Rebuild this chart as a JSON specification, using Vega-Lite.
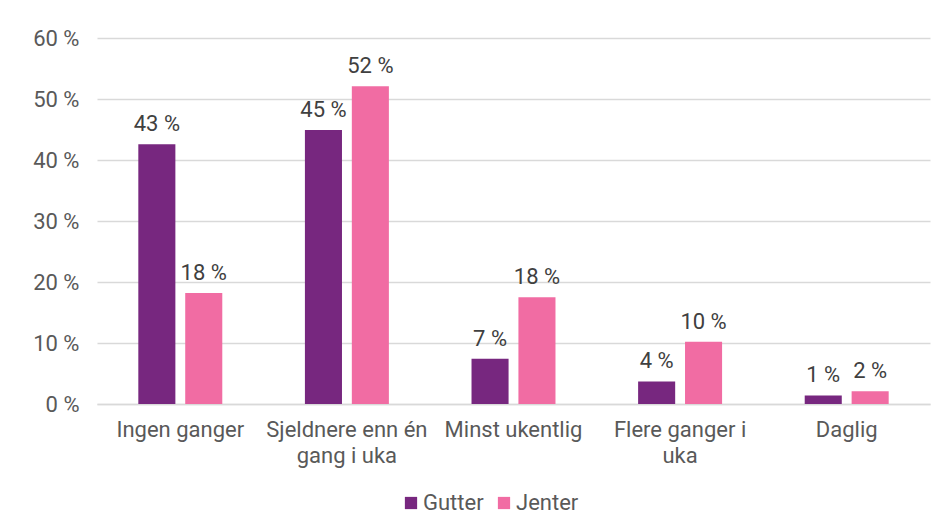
{
  "$schema": "https://vega.github.io/schema/vega-lite/v6.json",
  "width": 833,
  "height": 366,
  "autosize": {"type": "none"},
  "padding": {"left": 97, "top": 38, "right": 4, "bottom": 127},
  "background": "white",
  "config": {
    "locale": {"number": {"decimal": ",", "thousands": " ", "grouping": [3], "currency": ["", " kr"], "percent": " %"}},
    "font": "Roboto",
    "view": {"stroke": null},
    "axis": {"labelFont": "Roboto", "labelFontSize": 22, "labelColor": "#595959", "titleFont": "Roboto"},
    "legend": {"labelFont": "Roboto", "labelFontSize": 22, "labelColor": "#595959"}
  },
  "data": {
    "values": [
      {"kategori": "Ingen ganger", "kjonn": "Gutter", "andel": 0.426},
      {"kategori": "Ingen ganger", "kjonn": "Jenter", "andel": 0.182},
      {"kategori": "Sjeldnere enn én gang i uka", "kjonn": "Gutter", "andel": 0.449},
      {"kategori": "Sjeldnere enn én gang i uka", "kjonn": "Jenter", "andel": 0.521},
      {"kategori": "Minst ukentlig", "kjonn": "Gutter", "andel": 0.074},
      {"kategori": "Minst ukentlig", "kjonn": "Jenter", "andel": 0.175},
      {"kategori": "Flere ganger i uka", "kjonn": "Gutter", "andel": 0.037},
      {"kategori": "Flere ganger i uka", "kjonn": "Jenter", "andel": 0.102},
      {"kategori": "Daglig", "kjonn": "Gutter", "andel": 0.014},
      {"kategori": "Daglig", "kjonn": "Jenter", "andel": 0.021}
    ]
  },
  "encoding": {
    "x": {
      "field": "kategori",
      "type": "nominal",
      "sort": null,
      "scale": {"paddingInner": 0.496, "paddingOuter": 0.248},
      "axis": {
        "title": null,
        "labelAngle": 0,
        "ticks": false,
        "domain": true,
        "domainColor": "#D9D9D9",
        "domainWidth": 1.5,
        "labelPadding": 15,
        "labelLineHeight": 26,
        "labelLimit": 220,
        "labelBaseline": "top",
        "labelExpr": "datum.value == 'Sjeldnere enn én gang i uka' ? ['Sjeldnere enn én', 'gang i uka'] : datum.value == 'Flere ganger i uka' ? ['Flere ganger i', 'uka'] : datum.value"
      }
    },
    "xOffset": {
      "field": "kjonn",
      "type": "nominal",
      "scale": {"paddingInner": 0.21, "paddingOuter": 0}
    },
    "y": {
      "field": "andel",
      "type": "quantitative",
      "scale": {"domain": [0, 0.6], "nice": false},
      "axis": {
        "title": null,
        "format": ".0%",
        "values": [0, 0.1, 0.2, 0.3, 0.4, 0.5, 0.6],
        "ticks": false,
        "domain": false,
        "gridColor": "#D9D9D9",
        "gridWidth": 1.5,
        "labelPadding": 18
      }
    }
  },
  "layer": [
    {
      "mark": {"type": "bar"},
      "encoding": {
        "color": {
          "field": "kjonn",
          "type": "nominal",
          "scale": {"domain": ["Gutter", "Jenter"], "range": ["#77277F", "#F16CA3"]},
          "legend": {
            "title": null,
            "orient": "none",
            "direction": "horizontal",
            "legendX": 303,
            "legendY": 454,
            "symbolType": "square",
            "symbolSize": 150,
            "symbolStrokeWidth": 0,
            "labelOffset": 1,
            "columnPadding": 9,
            "padding": 0
          }
        }
      }
    },
    {
      "mark": {"type": "text", "baseline": "alphabetic", "dy": -13, "fontSize": 22, "color": "#404040", "font": "Roboto"},
      "encoding": {
        "text": {"field": "andel", "type": "quantitative", "format": ".0%"}
      }
    }
  ]
}
